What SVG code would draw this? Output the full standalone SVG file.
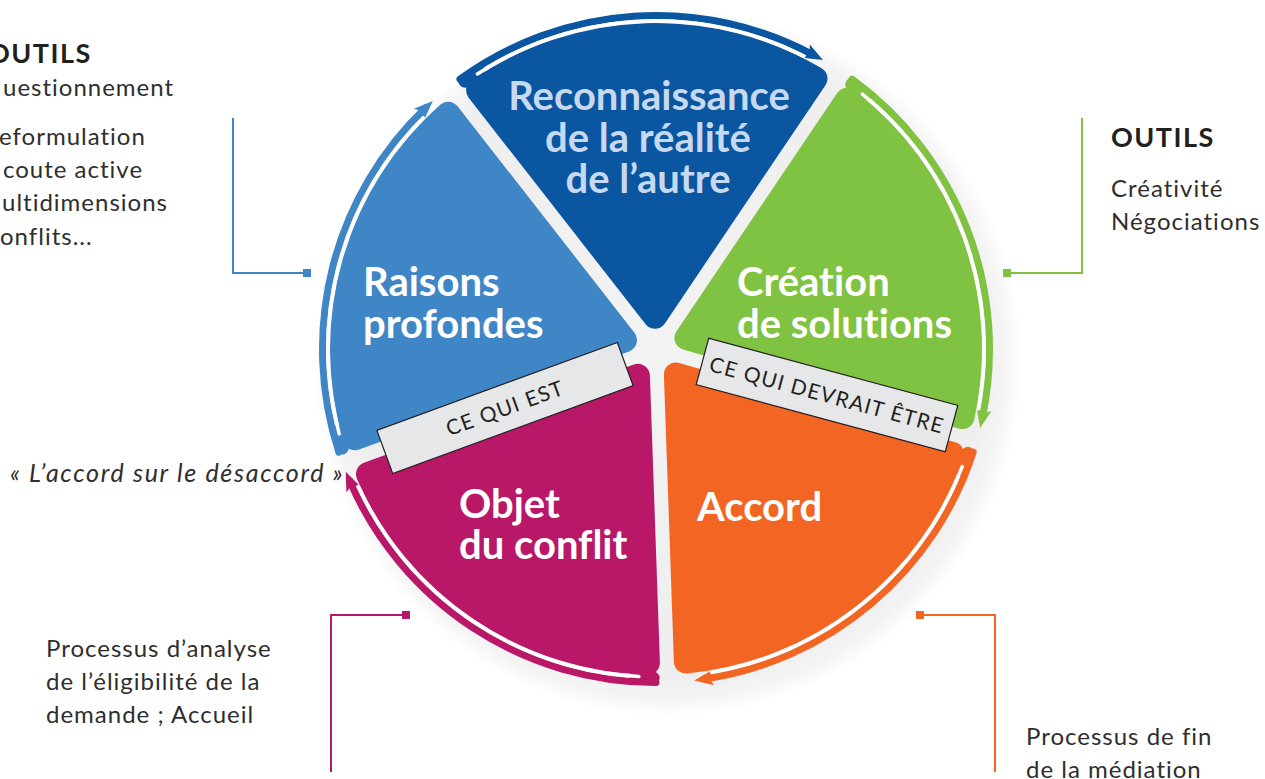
<svg xmlns="http://www.w3.org/2000/svg" width="1265" height="779" viewBox="0 0 1265 779">
  <defs>
    <style>
      text { font-variant-ligatures: none; }
      .lbl { font-family: Lato, "Liberation Sans", sans-serif; font-weight: 700; font-size: 40px; fill: #ffffff; }
      .pale { fill: #C6D9F0; }
      .txt { font-family: Lato, "Liberation Sans", sans-serif; font-size: 24px; fill: #2e2e2e; letter-spacing: 1px; }
      .head { font-family: Lato, "Liberation Sans", sans-serif; font-weight: 700; font-size: 27px; fill: #231F20; letter-spacing: 1.5px; }
      .quote { font-style: italic; font-size: 25px; letter-spacing: 1.7px; }
      .tag-box { fill: #E6E7E8; stroke: #231F20; stroke-width: 1.2; }
      .tag-txt { font-family: Lato, "Liberation Sans", sans-serif; font-size: 21px; fill: #231F20; letter-spacing: 1.3px; }
      .slice { stroke-width: 24; stroke-linejoin: round; }
      .band { fill: none; stroke-width: 7; stroke-linecap: round; }
      .fill-in { fill: none; stroke-width: 13; stroke-linecap: round; }
      .cut { fill: none; stroke: #ffffff; stroke-width: 3.5; stroke-linecap: round; }
      .lead { fill: none; stroke-width: 2; }
    </style>
    <radialGradient id="halo" gradientUnits="userSpaceOnUse" cx="668" cy="362" r="354">
      <stop offset="0" stop-color="#F3F3F4"/>
      <stop offset="0.88" stop-color="#EEEEEF"/>
      <stop offset="0.95" stop-color="#F4F4F5"/>
      <stop offset="1" stop-color="#FFFFFF"/>
    </radialGradient>
    <marker id="head-navy" markerUnits="userSpaceOnUse" viewBox="-12 -10 24 20" markerWidth="24" markerHeight="20" refX="0" refY="0" orient="auto" overflow="visible">
      <path d="M10,0 L-9,-7.5 L-5,0 L-9,7.5 Z" fill="#0A56A0"/>
    </marker>
    <marker id="head-blue" markerUnits="userSpaceOnUse" viewBox="-12 -10 24 20" markerWidth="24" markerHeight="20" refX="0" refY="0" orient="auto" overflow="visible">
      <path d="M10,0 L-9,-7.5 L-5,0 L-9,7.5 Z" fill="#3F86C6"/>
    </marker>
    <marker id="head-green" markerUnits="userSpaceOnUse" viewBox="-12 -10 24 20" markerWidth="24" markerHeight="20" refX="0" refY="0" orient="auto" overflow="visible">
      <path d="M10,0 L-9,-7.5 L-5,0 L-9,7.5 Z" fill="#80C241"/>
    </marker>
    <marker id="head-orange" markerUnits="userSpaceOnUse" viewBox="-12 -10 24 20" markerWidth="24" markerHeight="20" refX="0" refY="0" orient="auto" overflow="visible">
      <path d="M10,0 L-9,-7.5 L-5,0 L-9,7.5 Z" fill="#F26522"/>
    </marker>
    <marker id="head-magenta" markerUnits="userSpaceOnUse" viewBox="-12 -10 24 20" markerWidth="24" markerHeight="20" refX="0" refY="0" orient="auto" overflow="visible">
      <path d="M10,0 L-9,-7.5 L-5,0 L-9,7.5 Z" fill="#B81867"/>
    </marker>
  </defs>

  <rect width="1265" height="779" fill="#ffffff"/>

  <!-- soft grey disc behind the wheel -->
  <circle id="backdrop" cx="668" cy="362" r="354" fill="url(#halo)"/>

  <!-- wheel segments -->
  <g id="node-reconnaissance">
    <path class="slice" fill="#0A56A0" stroke="#0A56A0" d="M654.9,316.7 L478.1,90.3 A314,314 0 0 1 815.5,78.5 Z"/>
    <text class="lbl pale" text-anchor="middle" x="649" y="110">Reconnaissance</text>
    <text class="lbl pale" text-anchor="middle" x="648" y="152">de la réalité</text>
    <text class="lbl pale" text-anchor="middle" x="648" y="193">de l’autre</text>
  </g>
  <g id="node-creation">
    <path class="slice" fill="#80C241" stroke="#80C241" d="M686.4,338 L847.1,99.8 A314,314 0 0 1 962.5,417.1 Z"/>
    <text class="lbl" x="737" y="296">Création</text>
    <text class="lbl" x="737" y="338">de solutions</text>
  </g>
  <g id="node-accord">
    <path class="slice" fill="#F26522" stroke="#F26522" d="M675.9,374.5 L952,453.7 A314,314 0 0 1 685.9,661.6 Z"/>
    <text class="lbl" x="697" y="521">Accord</text>
  </g>
  <g id="node-objet">
    <path class="slice" fill="#B81867" stroke="#B81867" d="M637.9,375.8 L647.9,662.9 A314,314 0 0 1 368,474.1 Z"/>
    <text class="lbl" x="459" y="518">Objet</text>
    <text class="lbl" x="459" y="559">du conflit</text>
  </g>
  <g id="node-raisons">
    <path class="slice" fill="#3F86C6" stroke="#3F86C6" d="M625,340.1 L355,438.3 A314,314 0 0 1 448.1,113.7 Z"/>
    <text class="lbl" x="363" y="296">Raisons</text>
    <text class="lbl" x="363" y="338">profondes</text>
  </g>

  <g id="connectors">
    <!-- cycle arrows running clockwise round the rim -->
    <g id="arrow-reconnaissance">
      <path class="fill-in" stroke="#0A56A0" d="M464.95,81.15 A329,329 0 0 1 479.23,71.52"/>
      <path class="band" stroke="#0A56A0" marker-end="url(#head-navy)" d="M459.97,79.19 A333.5,333.5 0 0 1 814.11,55.36"/>
      <path class="cut" d="M477.36,73.92 A328,328 0 0 1 803.89,56.23"/>
    </g>
    <g id="arrow-creation">
      <path class="fill-in" stroke="#80C241" d="M851.7,84.53 A329,329 0 0 1 865.27,95.14"/>
      <path class="band" stroke="#80C241" marker-end="url(#head-green)" d="M852.03,79.19 A333.5,333.5 0 0 1 982.21,418.34"/>
      <path class="cut" d="M862.42,94.09 A328,328 0 0 1 978.51,408.77"/>
    </g>
    <g id="arrow-accord">
      <path class="fill-in" stroke="#F26522" d="M968,453.39 A329,329 0 0 1 962.11,469.58"/>
      <path class="band" stroke="#F26522" marker-end="url(#head-orange)" d="M973.18,452.06 A333.5,333.5 0 0 1 704.14,679.01"/>
      <path class="cut" d="M962.21,466.55 A328,328 0 0 1 711.83,672.21"/>
    </g>
    <g id="arrow-objet">
      <path class="fill-in" stroke="#B81867" d="M653.13,677.99 A329,329 0 0 1 635.91,677.38"/>
      <path class="band" stroke="#B81867" marker-end="url(#head-magenta)" d="M656,682.5 A333.5,333.5 0 0 1 349.7,480.92"/>
      <path class="cut" d="M638.83,676.55 A328,328 0 0 1 358.25,486.58"/>
    </g>
    <g id="arrow-raisons">
      <path class="fill-in" stroke="#3F86C6" d="M342.23,447.93 A329,329 0 0 1 337.48,431.38"/>
      <path class="band" stroke="#3F86C6" marker-end="url(#head-blue)" d="M338.82,452.06 A333.5,333.5 0 0 1 425.59,107.89"/>
      <path class="cut" d="M339.17,433.89 A328,328 0 0 1 423.24,117.9"/>
    </g>

    <!-- leader lines to the side notes -->
    <g id="lead-raisons">
      <polyline class="lead" stroke="#3F86C6" points="233,118 233,273 306,273"/>
      <rect x="303" y="269" width="8" height="8" fill="#3F86C6"/>
    </g>
    <g id="lead-creation">
      <polyline class="lead" stroke="#80C241" points="1082,118 1082,273 1006,273"/>
      <rect x="1003" y="269" width="8" height="8" fill="#80C241"/>
    </g>
    <g id="lead-objet">
      <polyline class="lead" stroke="#B81867" points="406,615 331,615 331,772"/>
      <rect x="402" y="611" width="8" height="8" fill="#B81867"/>
    </g>
    <g id="lead-accord">
      <polyline class="lead" stroke="#F26522" points="920,615 995,615 995,772"/>
      <rect x="916" y="611" width="8" height="8" fill="#F26522"/>
    </g>
  </g>

  <!-- tilted tags across the two splits -->
  <g id="tag-ce-qui-est" transform="translate(505,408) rotate(-20.1)">
    <rect class="tag-box" x="-128" y="-23" width="256" height="46"/>
    <text class="tag-txt" text-anchor="middle" x="0" y="7.5">CE QUI EST</text>
  </g>
  <g id="tag-ce-qui-devrait-etre" transform="translate(827,395) rotate(15.1)">
    <rect class="tag-box" x="-129" y="-24" width="258" height="48"/>
    <text class="tag-txt" text-anchor="middle" x="0" y="7.5">CE QUI DEVRAIT ÊTRE</text>
  </g>

  <!-- side notes -->
  <g id="note-outils-left">
    <text class="head" x="-12" y="63">OUTILS</text>
    <text class="txt" x="3" y="96">uestionnement</text>
    <text class="txt" x="-1" y="145">eformulation</text>
    <text class="txt" x="3" y="178">coute active</text>
    <text class="txt" x="2" y="211">ultidimensions</text>
    <text class="txt" x="0" y="245">onflits...</text>
  </g>
  <g id="note-outils-right">
    <text class="head" x="1111" y="147">OUTILS</text>
    <text class="txt" x="1111" y="197">Créativité</text>
    <text class="txt" x="1111" y="230">Négociations</text>
  </g>
  <g id="note-accord-desaccord">
    <text class="txt quote" x="10" y="482">« L’accord sur le désaccord »</text>
  </g>
  <g id="note-analyse">
    <text class="txt" x="46" y="657">Processus d’analyse</text>
    <text class="txt" x="46" y="690">de l’éligibilité de la</text>
    <text class="txt" x="46" y="723">demande ; Accueil</text>
  </g>
  <g id="note-fin">
    <text class="txt" x="1026" y="745">Processus de fin</text>
    <text class="txt" x="1026" y="778">de la médiation</text>
  </g>
</svg>
